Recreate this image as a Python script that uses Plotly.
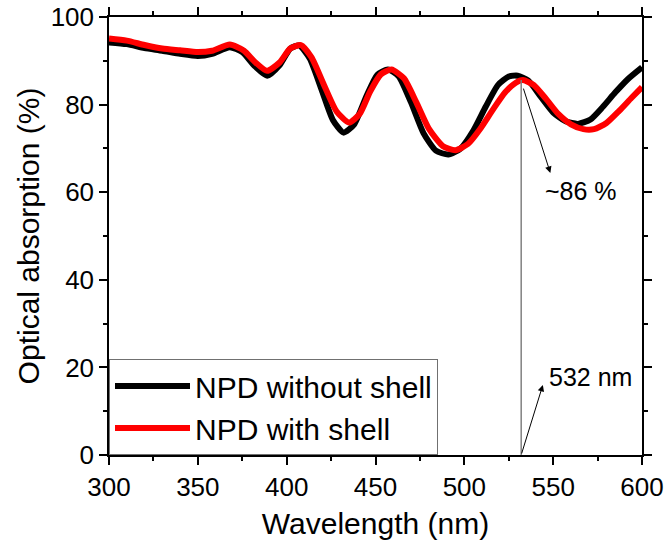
import plotly.graph_objects as go

# Data
wl_noshell = [300, 310, 320, 330, 340, 350, 358, 368, 375, 382, 389, 396, 402, 407, 413, 420,
              426, 432, 438, 445, 451, 457, 463, 470, 477, 484, 491, 498, 505, 512, 519, 525,
              530, 536, 543, 550, 557, 564, 571, 578, 585, 592, 600]
abs_noshell = [94.2, 93.8, 92.9, 92.3, 91.6, 91.1, 91.6, 93.1, 92.0, 88.8, 86.6, 89.0, 92.8, 93.5, 90.5, 83.0,
               76.5, 73.6, 75.5, 82.0, 86.8, 88.0, 86.5, 80.5, 73.5, 69.5, 68.6, 70.0, 74.0, 79.5, 84.5, 86.4,
               86.6, 85.5, 81.8, 78.2, 76.2, 75.6, 76.6, 79.5, 82.8, 85.8, 88.5]

wl_shell = [300, 310, 320, 330, 340, 350, 358, 368, 376, 382, 389, 396, 402, 408, 414, 421,
            428, 435, 441, 447, 453, 459, 466, 473, 480, 488, 495, 502, 509, 516, 523, 529,
            533, 539, 546, 553, 560, 567, 573, 580, 587, 594, 600]
abs_shell = [95.1, 94.6, 93.6, 92.8, 92.4, 92.0, 92.3, 93.7, 92.3, 89.8, 87.7, 89.6, 92.8, 93.6, 90.8, 84.5,
             78.5, 75.9, 77.8, 83.0, 86.9, 88.0, 86.0, 80.5, 74.5, 70.5, 69.6, 71.0, 74.5, 78.8, 82.8, 85.0,
             85.6, 84.5, 81.3, 77.8, 75.5, 74.4, 74.4, 75.8, 78.5, 81.5, 84.0]

series_names = ["NPD without shell", "NPD with shell"]
marker_wl = 532
marker_abs = 85.6
label_peak = "~86 %"
label_wl = "532 nm"

FONT = "Liberation Sans, Arial, sans-serif"

fig = go.Figure()
fig.add_trace(go.Scatter(x=wl_noshell, y=abs_noshell, mode="lines", name=series_names[0],
                         line=dict(color="black", width=6, shape="spline", smoothing=0.6)))
fig.add_trace(go.Scatter(x=wl_shell, y=abs_shell, mode="lines", name=series_names[1],
                         line=dict(color="#ff0000", width=6, shape="spline", smoothing=0.6)))

# vertical marker line at 532 nm
fig.add_shape(type="line", x0=marker_wl, x1=marker_wl, y0=0, y1=marker_abs,
              xref="x", yref="y", line=dict(color="#808080", width=1.5))

# arrow to ~86 % label
fig.add_annotation(x=548.4, y=64.4, ax=533, ay=84, xref="x", yref="y", axref="x", ayref="y",
                   showarrow=True, arrowhead=2, arrowsize=1.3, arrowwidth=1, arrowcolor="black", text="")
fig.add_annotation(x=565.7, y=60.3, xref="x", yref="y", text=label_peak, showarrow=False,
                   font=dict(family=FONT, size=25, color="black"))
# arrow to 532 nm label
fig.add_annotation(x=544.2, y=16, ax=532, ay=0, xref="x", yref="y", axref="x", ayref="y",
                   showarrow=True, arrowhead=2, arrowsize=1.3, arrowwidth=1, arrowcolor="black", text="")
fig.add_annotation(x=571, y=17.8, xref="x", yref="y", text=label_wl, showarrow=False,
                   font=dict(family=FONT, size=25, color="black"))

axis_common = dict(showline=True, linecolor="black", linewidth=1.5, mirror="allticks",
                   ticks="outside", ticklen=8, tickwidth=1.5, tickcolor="black",
                   showgrid=False, zeroline=False, automargin=False,
                   ticklabeloverflow="allow",
                   tickfont=dict(family=FONT, size=26, color="black"))

fig.update_xaxes(range=[300, 600], tickvals=[300, 350, 400, 450, 500, 550, 600],
                 minor=dict(tickvals=[325, 375, 425, 475, 525, 575], ticklen=4, tickwidth=1.5,
                            tickcolor="black", ticks="outside", showgrid=False),
                 title=dict(text="Wavelength (nm)", font=dict(family=FONT, size=30, color="black"), standoff=12),
                 **axis_common)
fig.update_yaxes(range=[0, 100], tickvals=[0, 20, 40, 60, 80, 100],
                 minor=dict(tickvals=[10, 30, 50, 70, 90], ticklen=4, tickwidth=1.5,
                            tickcolor="black", ticks="outside", showgrid=False),
                 title=dict(text="Optical absorption (%)", font=dict(family=FONT, size=30, color="black"), standoff=2),
                 **axis_common)

fig.update_layout(
    width=665, height=548,
    margin=dict(l=109, r=23, t=17, b=93),
    plot_bgcolor="white", paper_bgcolor="white",
    font=dict(family=FONT, color="black"),
    legend=dict(x=0, y=0, xanchor="left", yanchor="bottom",
                bgcolor="white", bordercolor="#707070", borderwidth=1,
                font=dict(family=FONT, size=30, color="black"),
                tracegroupgap=0, itemwidth=75),
    showlegend=True,
)

fig.write_html("out.html", config={"displayModeBar": False},
               post_script="document.body.style.margin='0';")
